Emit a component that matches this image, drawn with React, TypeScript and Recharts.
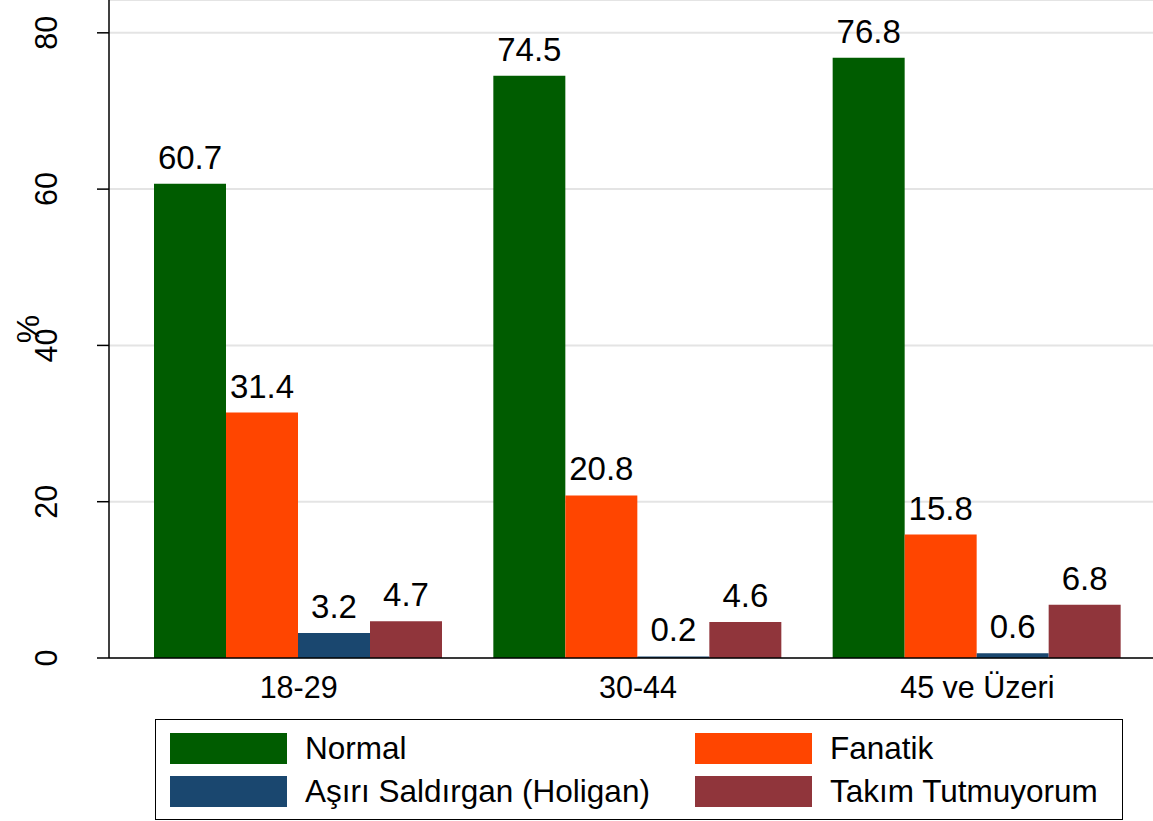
import { BarChart, Bar, XAxis, YAxis, CartesianGrid, LabelList } from 'recharts';

const groups = ['18-29', '30-44', '45 ve Üzeri'];
const normal = [60.7, 74.5, 76.8];
const fanatik = [31.4, 20.8, 15.8];
const asiri = [3.2, 0.2, 0.6];
const takim = [4.7, 4.6, 6.8];
const yTicks = [0, 20, 40, 60, 80];

const series = [
  { key: 'normal', label: 'Normal', color: '#005c00', values: normal },
  { key: 'fanatik', label: 'Fanatik', color: '#ff4500', values: fanatik },
  { key: 'asiri', label: 'Aşırı Saldırgan (Holigan)', color: '#1a476f', values: asiri },
  { key: 'takim', label: 'Takım Tutmuyorum', color: '#90353b', values: takim },
];

const data = groups.map((g, i) => {
  const row: Record<string, any> = { group: g };
  series.forEach((s) => {
    row[s.key] = s.values[i];
  });
  return row;
});

const FONT = '"Liberation Sans", Arial, sans-serif';

function YTick(props: any) {
  const { x, y, payload } = props;
  const bx = x - 40;
  return (
    <text
      x={bx}
      y={y}
      transform={`rotate(-90, ${bx}, ${y})`}
      textAnchor="middle"
      fontSize={30.5}
      fontFamily={FONT}
      fill="#000"
    >
      {payload.value}
    </text>
  );
}

function XTick(props: any) {
  const { x, y, payload } = props;
  return (
    <text x={x} y={y} dy={40} textAnchor="middle" fontSize={30.5} fontFamily={FONT} fill="#000">
      {payload.value}
    </text>
  );
}

function YLabel(props: any) {
  const { viewBox } = props;
  const cy = viewBox.y + viewBox.height / 2;
  return (
    <text x={39} y={cy} transform={`rotate(-90, 39, ${cy})`} textAnchor="middle" fontSize={32} fontFamily={FONT} fill="#000">
      %
    </text>
  );
}

function LegendBox() {
  const pos = [
    { left: 14, top: 13 },
    { left: 539, top: 13 },
    { left: 14, top: 56 },
    { left: 539, top: 56 },
  ];
  return (
    <div
      style={{
        position: 'absolute',
        left: 155,
        top: 719,
        width: 966,
        height: 99,
        border: '1.5px solid #000',
        background: '#fff',
        fontFamily: FONT,
      }}
    >
      {series.map((s, i) => (
        <div key={s.key} style={{ position: 'absolute', left: pos[i].left, top: pos[i].top, display: 'flex', alignItems: 'center' }}>
          <div style={{ width: 117, height: 31, background: s.color }} />
          <span style={{ marginLeft: 18, fontSize: 31.5, lineHeight: '31px', color: '#000', whiteSpace: 'nowrap' }}>{s.label}</span>
        </div>
      ))}
    </div>
  );
}

export default function App() {
  return (
    <div style={{ position: 'absolute', left: 0, top: 0, width: 1153, height: 821, background: '#fff' }}>
      <BarChart
        width={1153}
        height={821}
        data={data}
        margin={{ top: 0, right: 0, bottom: 0, left: 0 }}
        barCategoryGap={25}
        barGap={0}
      >
        <CartesianGrid vertical={false} stroke="#e4e4e4" strokeWidth={2} />
        <XAxis
          dataKey="group"
          height={163}
          padding={{ left: 20, right: 6 }}
          tickLine={false}
          tickSize={0}
          tickMargin={0}
          axisLine={{ stroke: '#000', strokeWidth: 1.5 }}
          tick={<XTick />}
          interval={0}
        />
        <YAxis
          width={109}
          domain={[0, 84.2]}
          ticks={yTicks}
          tickSize={12}
          tickMargin={0}
          tickLine={{ stroke: '#000', strokeWidth: 1.5 }}
          axisLine={{ stroke: '#000', strokeWidth: 1.5 }}
          tick={<YTick />}
          label={<YLabel />}
          allowDataOverflow
        />
        {series.map((s) => (
          <Bar key={s.key} dataKey={s.key} fill={s.color} name={s.label} isAnimationActive={false}>
            <LabelList dataKey={s.key} position="top" offset={15} fontSize={33} fontFamily={FONT} fill="#000" />
          </Bar>
        ))}
      </BarChart>
      <LegendBox />
    </div>
  );
}
